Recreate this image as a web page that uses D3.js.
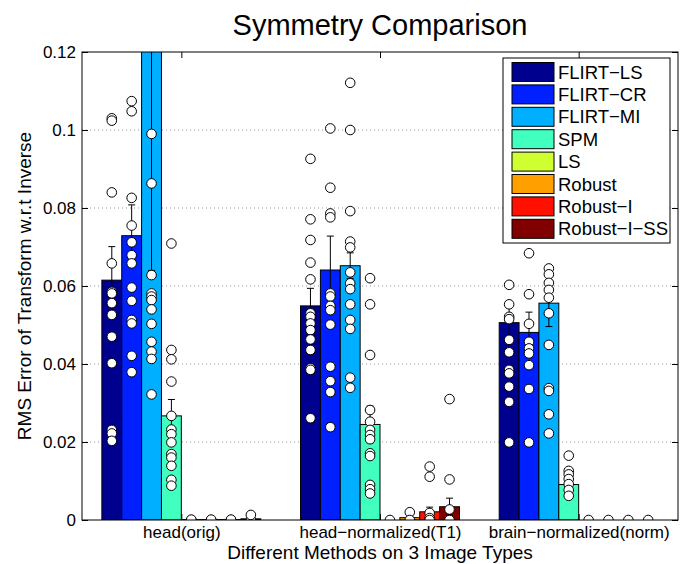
<!DOCTYPE html>
<html>
<head>
<meta charset="utf-8">
<script src="https://cdn.jsdelivr.net/npm/d3@7/dist/d3.min.js"></script>
<style>
body { margin: 0; background: #fff; }
text { font-family: "Liberation Sans", Arial, sans-serif; fill: #000; }
</style>
</head>
<body>
<script>
// chart values
var groupNames = ["head(orig)", "head\u2212normalized(T1)", "brain\u2212normalized(norm)"];
var methodNames = ["FLIRT\u2212LS", "FLIRT\u2212CR", "FLIRT\u2212MI", "SPM", "LS", "Robust", "Robust\u2212I", "Robust\u2212I\u2212SS"];
var methodColors = ["#00008f", "#0020ff", "#00afff", "#40ffbf", "#cfff30", "#ff9f00", "#ff1000", "#800000"];

// mean per method, one row per image type
var meansHead      = [0.0615, 0.0729, 0.17,  0.0267, 0.0001, 0.0001, 0.0001, 0.0003];
var meansHeadNorm  = [0.0549, 0.0641, 0.0652, 0.0245, 0.0,   0.0006, 0.0021, 0.0034];
var meansBrainNorm = [0.0506, 0.0481, 0.0556, 0.0091, 0.0,   0.0,    0.0,    0.0];

var errHead      = [0.0086, 0.0079, 0.106,  0.0042, 0, 0, 0, 0.0003];
var errHeadNorm  = [0.0045, 0.0087, 0.0033, 0.0047, 0, 0.0003, 0.0012, 0.0022];
var errBrainNorm = [0.0045, 0.0052, 0.0060, 0.0012, 0, 0, 0, 0];

// single subject values per method
var ptsHead = [
    [0.1030, 0.1024, 0.0840, 0.0658, 0.0585, 0.0581, 0.0556, 0.0526, 0.0470, 0.0402, 0.0231, 0.0222, 0.0203],
    [0.1074, 0.1048, 0.0826, 0.0755, 0.0712, 0.0679, 0.0658, 0.0596, 0.0562, 0.0513, 0.0504, 0.0421, 0.0379],
    [0.0990, 0.0863, 0.0628, 0.0581, 0.0573, 0.0564, 0.0540, 0.0503, 0.0457, 0.0432, 0.0413, 0.0322],
    [0.0709, 0.0436, 0.0412, 0.0355, 0.0267, 0.0232, 0.0220, 0.0199, 0.0169, 0.0160, 0.0139, 0.0103, 0.0088],
    [0.0, 0.0001],
    [0.0, 0.0001],
    [0.0, 0.0001],
    [0.0, 0.0013]
];
var ptsHeadNorm = [
    [0.0926, 0.0771, 0.0718, 0.0660, 0.0617, 0.0530, 0.0521, 0.0504, 0.0487, 0.0463, 0.0436, 0.0389, 0.0385, 0.0261],
    [0.1004, 0.0852, 0.0786, 0.0776, 0.0581, 0.0573, 0.0549, 0.0538, 0.0501, 0.0393, 0.0356, 0.0328, 0.0238],
    [0.1121, 0.1000, 0.0792, 0.0714, 0.0699, 0.0635, 0.0607, 0.0592, 0.0553, 0.0513, 0.0490, 0.0365, 0.0339],
    [0.0620, 0.0553, 0.0423, 0.0282, 0.0252, 0.0231, 0.0218, 0.0207, 0.0171, 0.0164, 0.0090, 0.0079, 0.0068],
    [0.0],
    [0.0020, 0.0],
    [0.0137, 0.0111, 0.0018, 0.0005, 0.0],
    [0.0310, 0.0104, 0.0027, 0.0]
];
var ptsBrainNorm = [
    [0.0603, 0.0553, 0.0521, 0.0515, 0.0462, 0.0430, 0.0385, 0.0376, 0.0342, 0.0303, 0.0199],
    [0.0684, 0.0579, 0.0503, 0.0457, 0.0440, 0.0427, 0.0397, 0.0336, 0.0199],
    [0.0645, 0.0630, 0.0608, 0.0590, 0.0570, 0.0530, 0.0449, 0.0338, 0.0331, 0.0271, 0.0222],
    [0.0165, 0.0126, 0.0117, 0.0105, 0.0092, 0.0077, 0.0062],
    [0.0],
    [0.0],
    [0.0],
    [0.0]
];

var yTicks = [0, 0.02, 0.04, 0.06, 0.08, 0.1, 0.12];
var yTickLabels = ["0", "0.02", "0.04", "0.06", "0.08", "0.1", "0.12"];

var allMeans = [meansHead, meansHeadNorm, meansBrainNorm];
var allErrs = [errHead, errHeadNorm, errBrainNorm];
var allPts = [ptsHead, ptsHeadNorm, ptsBrainNorm];

window.onload = drawChart;

function drawChart() {
    var width = 692,
        height = 564;
    var left = 82, right = 678, top = 52, bottom = 520;

    var svg = d3.select("body")
        .append("svg")
        .attr("width", width)
        .attr("height", height);

    var x = d3.scaleLinear().domain([0.5, 3.5]).range([left, right]);
    var y = d3.scaleLinear().domain([0, 0.12]).range([bottom, top]);

    var barW = 0.1; // 8 bars in a 0.8 wide group
    function barCenter(g, m) { return (g + 1) + (m - 3.5) * barW; }

    svg.append("clipPath").attr("id", "plotclip")
        .append("rect")
        .attr("x", left).attr("y", top)
        .attr("width", right - left).attr("height", bottom - top);

    // dotted grid
    svg.append("g").selectAll("line")
        .data(yTicks.slice(1, -1))
        .enter().append("line")
        .attr("x1", left).attr("x2", right)
        .attr("y1", function(d) { return y(d); })
        .attr("y2", function(d) { return y(d); })
        .attr("stroke", "#999")
        .attr("stroke-width", 1)
        .attr("stroke-dasharray", "1,3");

    var plot = svg.append("g").attr("clip-path", "url(#plotclip)");

    // build flat tables from the arrays
    var bars = [], points = [];
    allMeans.forEach(function(row, g) {
        row.forEach(function(v, m) {
            bars.push({g: g, m: m, v: v, e: allErrs[g][m]});
            allPts[g][m].forEach(function(p) {
                points.push({g: g, m: m, v: p});
            });
        });
    });

    plot.selectAll(".bar")
        .data(bars)
        .enter().append("rect")
        .attr("class", "bar")
        .attr("x", function(d) { return x(barCenter(d.g, d.m) - barW / 2); })
        .attr("width", x(barW) - x(0))
        .attr("y", function(d) { return y(d.v); })
        .attr("height", function(d) { return y(0) - y(d.v); })
        .attr("fill", function(d) { return methodColors[d.m]; })
        .attr("stroke", "#000")
        .attr("stroke-width", 1);

    // error bars with caps
    var eb = plot.selectAll(".err")
        .data(bars.filter(function(d) { return d.e > 0; }))
        .enter().append("g")
        .attr("class", "err")
        .attr("stroke", "#000")
        .attr("stroke-width", 1);
    eb.append("line")
        .attr("x1", function(d) { return x(barCenter(d.g, d.m)); })
        .attr("x2", function(d) { return x(barCenter(d.g, d.m)); })
        .attr("y1", function(d) { return y(d.v - d.e); })
        .attr("y2", function(d) { return y(d.v + d.e); });
    [-1, 1].forEach(function(s) {
        eb.append("line")
            .attr("x1", function(d) { return x(barCenter(d.g, d.m)) - 3.5; })
            .attr("x2", function(d) { return x(barCenter(d.g, d.m)) + 3.5; })
            .attr("y1", function(d) { return y(d.v + s * d.e); })
            .attr("y2", function(d) { return y(d.v + s * d.e); });
    });

    plot.selectAll(".pt")
        .data(points)
        .enter().append("circle")
        .attr("class", "pt")
        .attr("cx", function(d) { return x(barCenter(d.g, d.m)); })
        .attr("cy", function(d) { return y(d.v); })
        .attr("r", 4.8)
        .attr("fill", "#fff")
        .attr("stroke", "#000")
        .attr("stroke-width", 1);

    // axes, ticks pointing inward like matlab
    svg.append("g")
        .attr("transform", "translate(" + left + ",0)")
        .call(d3.axisLeft(y).tickValues(yTicks).tickSize(-6).tickSizeOuter(0).tickPadding(6)
            .tickFormat(function(d, i) { return yTickLabels[i]; }))
        .call(styleAxis);
    svg.append("g")
        .attr("transform", "translate(" + right + ",0)")
        .call(d3.axisRight(y).tickValues(yTicks).tickSize(-6).tickSizeOuter(0).tickFormat(""))
        .call(styleAxis);
    svg.append("g")
        .attr("transform", "translate(0," + bottom + ")")
        .call(d3.axisBottom(x).tickValues([1, 2, 3]).tickSize(-6).tickSizeOuter(0).tickPadding(6)
            .tickFormat(function(d) { return groupNames[d - 1]; }))
        .call(styleAxis);
    svg.append("g")
        .attr("transform", "translate(0," + top + ")")
        .call(d3.axisTop(x).tickValues([1, 2, 3]).tickSize(-6).tickSizeOuter(0).tickFormat(""))
        .call(styleAxis);

    svg.append("rect")
        .attr("x", left).attr("y", top)
        .attr("width", right - left).attr("height", bottom - top)
        .attr("fill", "none")
        .attr("stroke", "#000")
        .attr("stroke-width", 1);

    // titles
    svg.append("text")
        .attr("x", (left + right) / 2).attr("y", 35)
        .attr("text-anchor", "middle")
        .style("font-size", "29px")
        .text("Symmetry Comparison");
    svg.append("text")
        .attr("x", (left + right) / 2).attr("y", 559)
        .attr("text-anchor", "middle")
        .style("font-size", "19px")
        .text("Different Methods on 3 Image Types");
    svg.append("text")
        .attr("transform", "translate(31," + ((top + bottom) / 2) + ") rotate(-90)")
        .attr("text-anchor", "middle")
        .style("font-size", "19px")
        .text("RMS Error of Transform w.r.t Inverse");

    // legend
    var leg = svg.append("g").attr("transform", "translate(503,58)");
    leg.append("rect")
        .attr("width", 167).attr("height", 185)
        .attr("fill", "#fff")
        .attr("stroke", "#000")
        .attr("stroke-width", 1);
    var item = leg.selectAll(".item")
        .data(methodNames)
        .enter().append("g")
        .attr("class", "item")
        .attr("transform", function(d, i) { return "translate(9," + (4.5 + i * 22.4) + ")"; });
    item.append("rect")
        .attr("width", 42).attr("height", 19)
        .attr("fill", function(d, i) { return methodColors[i]; })
        .attr("stroke", "#000")
        .attr("stroke-width", 1);
    item.append("text")
        .attr("x", 46).attr("y", 16)
        .style("font-size", "18.5px")
        .text(function(d) { return d; });
}

function styleAxis(g) {
    g.select(".domain").remove();
    g.selectAll(".tick line").attr("stroke", "#000");
    g.selectAll(".tick text")
        .style("font-family", "'Liberation Sans', Arial, sans-serif")
        .style("font-size", "17px")
        .attr("fill", "#000");
}
</script>
</body>
</html>
